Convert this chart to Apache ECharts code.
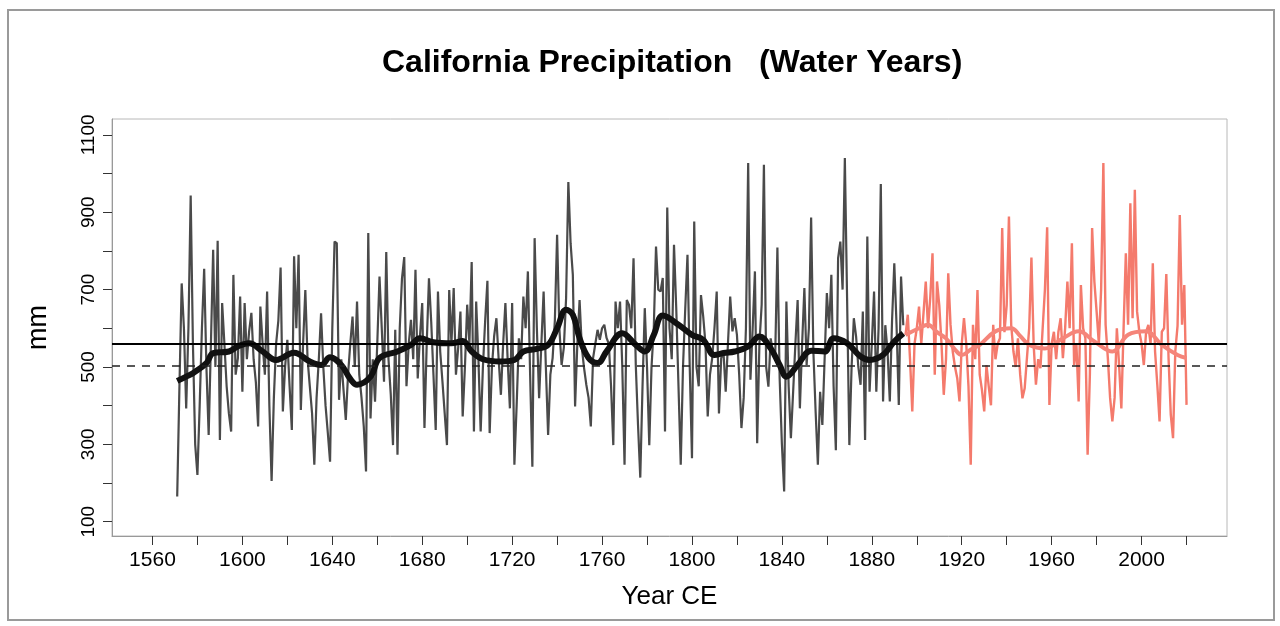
<!DOCTYPE html>
<html>
<head>
<meta charset="utf-8">
<title>California Precipitation (Water Years)</title>
<script src="https://cdn.jsdelivr.net/npm/echarts@6/dist/echarts.min.js"></script>
<style>
  html, body { margin: 0; padding: 0; background: #fff; }
  #precip { width: 1280px; height: 626px; }
</style>
</head>
<body>
<div id="precip"></div>
<script>
// reconstructed water-year precipitation (mm), one value per year from reconStart
var reconStart = 1571;
var reconValues = [
  165, 450, 716, 600, 393, 600, 943, 560, 300,                 // 1571-1579
  221, 400, 600, 754, 500, 324, 560, 803, 500, 826,            // 1580s
  311, 665, 560, 450, 380, 333, 738, 480, 523, 682,            // 1590s
  436, 665, 520, 592, 640, 520, 460, 346, 656, 560,            // 1600s
  480, 695, 400, 205, 420, 560, 620, 757, 385, 500,            // 1610s
  570, 450, 337, 786, 600, 790, 389, 560, 699, 520,            // 1620s
  450, 380, 247, 420, 520, 639, 500, 400, 330, 255,            // 1630s
  600, 824, 820, 415, 520, 440, 363, 480, 560, 630,            // 1640s
  500, 669, 480, 420, 346, 230, 846, 367, 520, 410,            // 1650s
  560, 734, 600, 462, 797, 520, 430, 298, 596, 273,            // 1660s
  600, 729, 784, 450, 560, 622, 520, 751, 470, 580,            // 1670s
  665, 342, 560, 729, 617, 480, 337, 695, 540, 462,            // 1680s
  380, 298, 699, 560, 704, 480, 550, 643, 372, 500,            // 1690s
  661, 560, 771, 333, 669, 520, 333, 500, 620, 723,            // 1700s
  329, 500, 580, 626, 520, 428, 560, 665, 520, 393,            // 1710s
  665, 247, 400, 574, 520, 682, 600, 747, 480, 242,            // 1720s
  833, 600, 419, 560, 695, 500, 324, 480, 523, 620,            // 1730s
  842, 600, 505, 550, 678, 978, 820, 738, 398, 560,            // 1740s
  673, 550, 497, 454, 420, 346, 523, 560, 596, 570,            // 1750s
  600, 609, 575, 560, 450, 298, 669, 600, 669, 500,            // 1760s
  247, 673, 660, 600, 781, 505, 350, 214, 450, 652,            // 1770s
  500, 298, 500, 600, 811, 700, 695, 730, 333, 912,            // 1780s
  600, 520, 816, 652, 450, 247, 500, 650, 790, 500,            // 1790s
  264, 876, 500, 450, 686, 630, 560, 372, 480, 523,            // 1800s
  600, 695, 380, 523, 540, 436, 560, 682, 592, 626,            // 1810s
  583, 480, 342, 420, 600, 1027, 467, 600, 747, 303,           // 1820s
  560, 661, 1023, 500, 449, 574, 540, 523, 809, 471,           // 1830s
  300, 178, 669, 450, 316, 436, 560, 673, 393, 560,            // 1840s
  704, 505, 600, 886, 540, 385, 247, 436, 350, 520,            // 1850s
  691, 600, 738, 450, 285, 781, 824, 700, 1040, 678,           // 1860s
  298, 500, 626, 579, 500, 454, 643, 311, 837, 436,            // 1870s
  560, 695, 436, 600, 973, 411, 608, 540, 411, 620,            // 1880s
  768, 608, 402, 734, 608                                      // 1890-1894
];

// instrumental record (mm)
var instrStart = 1895;
var instrValues = [
  583, 635, 520, 385, 560,                                     // 1895-1899
  600, 656, 560, 640, 721, 600, 680, 794, 480, 721,            // 1900s
  660, 560, 428, 520, 742, 610, 540, 500, 471, 411,            // 1910s
  560, 626, 560, 450, 247, 609, 520, 699, 480, 440,            // 1920s
  385, 505, 450, 401, 609, 520, 560, 574, 859, 590,            // 1930s
  660, 889, 609, 540, 500, 574, 480, 419, 445, 523,            // 1940s
  600, 783, 557, 454, 520, 497, 600, 700, 861, 402,            // 1950s
  560, 591, 520, 591, 626, 523, 600, 721, 600, 820,            // 1960s
  505, 560, 411, 712, 600, 574, 273, 480, 859, 721,            // 1970s
  643, 560, 700, 1027, 609, 523, 420, 359, 420, 600,           // 1980s
  505, 393, 600, 794, 609, 923, 626, 958, 643, 591,            // 1990s
  560, 505, 590, 609, 560, 768, 540, 454, 359, 591,            // 2000s
  600, 740, 523, 376, 316, 540, 606, 893, 609, 712,            // 2010s
  402                                                          // 2020
];

// low-pass curves
var reconSmoothYears = [1571, 1575, 1578, 1584, 1587, 1594, 1598, 1603, 1609, 1615,
  1623, 1630, 1635, 1639, 1644, 1648, 1651, 1657, 1661, 1669, 1675, 1679, 1685, 1693,
  1698, 1702, 1707, 1715, 1721, 1725, 1731, 1736, 1740, 1744, 1747, 1750, 1754, 1758,
  1762, 1769, 1775, 1779, 1783, 1787, 1794, 1800, 1805, 1810, 1814, 1819, 1825, 1830,
  1835, 1839, 1842, 1847, 1853, 1859, 1863, 1869, 1875, 1879, 1885, 1890, 1894];
var reconSmoothValues = [464, 475, 484, 510, 536, 540, 553, 561, 540, 518,
  537, 514, 505, 525, 505, 469, 454, 475, 523, 540, 557, 574, 564, 561,
  567, 540, 520, 514, 518, 540, 547, 557, 600, 648, 635, 574, 523, 510,
  540, 587, 557, 540, 583, 633, 609, 583, 570, 531, 536, 540, 553, 579,
  548, 505, 475, 505, 542, 540, 574, 561, 527, 518, 531, 566, 587];
var instrSmoothYears = [1895, 1901, 1905, 1909, 1913, 1917, 1920, 1924, 1928, 1935,
  1942, 1946, 1950, 1957, 1965, 1972, 1979, 1987, 1994, 2002, 2009, 2016, 2020];
var instrSmoothValues = [583, 600, 609, 590, 574, 545, 531, 545, 557, 592,
  600, 580, 557, 548, 574, 592, 566, 540, 583, 592, 557, 531, 523];

var meanSolid = 561;
var meanDashed = 503;

var xTicks = [1560, 1580, 1600, 1620, 1640, 1660, 1680, 1700, 1720, 1740, 1760, 1780,
  1800, 1820, 1840, 1860, 1880, 1900, 1920, 1940, 1960, 1980, 2000, 2020];
var xLabels = [1560, 1600, 1640, 1680, 1720, 1760, 1800, 1840, 1880, 1920, 1960, 2000];
var yTicks = [100, 200, 300, 400, 500, 600, 700, 800, 900, 1000, 1100];
var yLabels = [100, 300, 500, 700, 900, 1100];

function yearPairs(start, vals) {
  var out = [];
  for (var i = 0; i < vals.length; i++) out.push([start + i, vals[i]]);
  return out;
}
function zipPairs(xs, ys) {
  var out = [];
  for (var i = 0; i < xs.length; i++) out.push([xs[i], ys[i]]);
  return out;
}
function plain(v) { return String(v); }

var dom = document.getElementById('precip');
var myChart = echarts.init(dom);
var font = '"Liberation Sans", Arial, sans-serif';

var option = {
  animation: false,
  backgroundColor: '#fff',
  textStyle: { fontFamily: font },
  title: {
    text: 'California Precipitation   (Water Years)',
    left: 377,
    top: 42,
    textStyle: { fontFamily: font, fontSize: 32, fontWeight: 'bold', color: '#000' }
  },
  graphic: [{
    type: 'rect',
    shape: { x: 8, y: 10, width: 1266, height: 610 },
    style: { fill: 'none', stroke: '#9a9a9a', lineWidth: 2 },
    silent: true,
    z: -1
  }],
  grid: {
    left: 112, right: 53, top: 119, bottom: 90,
    show: true, borderColor: '#b8b8b8', borderWidth: 1
  },
  xAxis: {
    type: 'value',
    min: 1542, max: 2038,
    name: 'Year CE',
    nameLocation: 'middle',
    nameGap: 48,
    nameTextStyle: { fontFamily: font, fontSize: 26, color: '#000' },
    axisLine: { show: true, lineStyle: { color: '#999' } },
    axisTick: { show: true, length: 9, customValues: xTicks, lineStyle: { color: '#333' } },
    axisLabel: { customValues: xLabels, formatter: plain, margin: 14, fontSize: 21, color: '#000', fontFamily: font },
    splitLine: { show: false }
  },
  yAxis: {
    type: 'value',
    min: 63, max: 1141,
    name: 'mm',
    nameLocation: 'middle',
    nameGap: 60,
    nameRotate: 90,
    nameTextStyle: { fontFamily: font, fontSize: 27, color: '#000' },
    axisLine: { show: true, lineStyle: { color: '#999' } },
    axisTick: { show: true, length: 9, customValues: yTicks, lineStyle: { color: '#333' } },
    axisLabel: { customValues: yLabels, formatter: plain, rotate: 90, margin: 14, fontSize: 19, color: '#000', fontFamily: font },
    splitLine: { show: false }
  },
  series: [
    {
      name: 'Reconstruction',
      type: 'line',
      data: yearPairs(reconStart, reconValues),
      showSymbol: false,
      lineStyle: { color: '#4a4a4a', width: 2.2 },
      z: 2
    },
    {
      name: 'Observed',
      type: 'line',
      data: yearPairs(instrStart, instrValues),
      showSymbol: false,
      lineStyle: { color: '#f47a6c', width: 2.4 },
      z: 2
    },
    {
      name: 'Means',
      type: 'line',
      data: [],
      markLine: {
        silent: true,
        symbol: 'none',
        label: { show: false },
        data: [
          { yAxis: meanSolid, lineStyle: { color: '#000', width: 2, type: 'solid' } },
          { yAxis: meanDashed, lineStyle: { color: '#222', width: 1.6, type: [8, 7] } }
        ]
      },
      z: 3
    },
    {
      name: 'Reconstruction smooth',
      type: 'line',
      data: zipPairs(reconSmoothYears, reconSmoothValues),
      smooth: 0.4,
      showSymbol: false,
      lineStyle: { color: '#111', width: 6 },
      z: 4
    },
    {
      name: 'Observed smooth',
      type: 'line',
      data: zipPairs(instrSmoothYears, instrSmoothValues),
      smooth: 0.4,
      showSymbol: false,
      lineStyle: { color: '#f5857a', width: 4 },
      z: 4
    }
  ]
};

myChart.setOption(option);
</script>
</body>
</html>
